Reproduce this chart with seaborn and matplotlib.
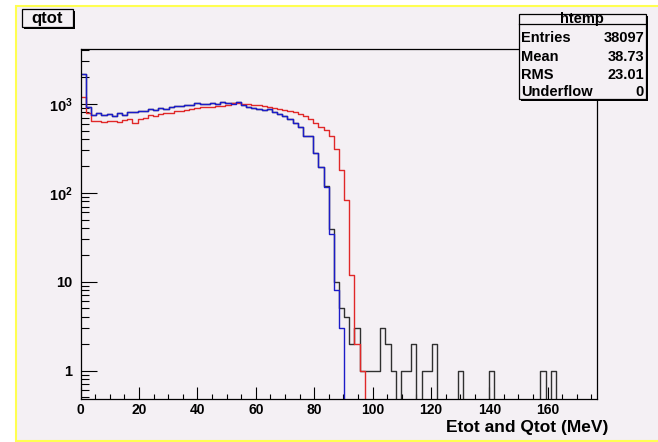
import numpy as np
import pandas as pd
import matplotlib
matplotlib.use("Agg")
import matplotlib.pyplot as plt
import seaborn as sns
from matplotlib.patches import Rectangle
from matplotlib.lines import Line2D
from matplotlib.ticker import FixedLocator, FixedFormatter, MultipleLocator, NullFormatter, LogLocator

# ---------------- data (100 bins, 0 .. 177 MeV) ----------------
x_min, x_max, n_bins = 0.0, 177.0, 100

blue_counts = [
    2170, 930, 750, 785, 740, 765, 720, 785, 750, 805,
    800, 840, 820, 870, 860, 895, 870, 920, 955, 955,
    980, 975, 1015, 990, 992, 1017, 992, 1035, 1020, 1000,
    1035, 960, 930, 895, 880, 850, 875, 800, 770, 720,
    670, 610, 545, 435, 430, 278, 194, 115, 34, 8,
    3, 0, 0, 0, 0, 0, 0, 0, 0, 0,
    0, 0, 0, 0, 0, 0, 0, 0, 0, 0,
    0, 0, 0, 0, 0, 0, 0, 0, 0, 0,
    0, 0, 0, 0, 0, 0, 0, 0, 0, 0,
    0, 0, 0, 0, 0, 0, 0, 0, 0, 0,
]

red_counts = [
    1200, 780, 640, 640, 620, 635, 645, 620, 660, 670,
    615, 675, 690, 750, 720, 765, 785, 785, 820, 840,
    855, 870, 895, 915, 910, 930, 950, 950, 975, 1010,
    1010, 990, 990, 975, 970, 950, 930, 900, 870, 860,
    820, 800, 770, 720, 670, 605, 550, 505, 430, 312,
    178, 83, 12, 2, 1, 0, 0, 0, 0, 0,
    0, 0, 0, 0, 0, 0, 0, 0, 0, 0,
    0, 0, 0, 0, 0, 0, 0, 0, 0, 0,
    0, 0, 0, 0, 0, 0, 0, 0, 0, 0,
    0, 0, 0, 0, 0, 0, 0, 0, 0, 0,
]

black_counts = [
    2170, 930, 750, 785, 740, 765, 720, 785, 750, 805,
    800, 840, 820, 870, 860, 895, 870, 920, 955, 955,
    980, 975, 1015, 990, 992, 1017, 992, 1035, 1020, 1010,
    1035, 960, 930, 900, 880, 850, 875, 805, 770, 720,
    670, 610, 545, 435, 440, 278, 194, 118, 39, 10,
    5, 4, 2, 3, 1, 1, 1, 1, 3, 2,
    1, 0, 1, 1, 2, 0, 1, 1, 2, 0,
    0, 0, 0, 1, 0, 0, 0, 0, 0, 1,
    0, 0, 0, 0, 0, 0, 0, 0, 0, 1,
    0, 1, 0, 0, 0, 0, 0, 0, 0, 0,
]

x_tick_values = [0, 20, 40, 60, 80, 100, 120, 140, 160]
y_tick_values = [1, 10, 100, 1000]
y_tick_labels = ["1", "10", r"$10^{2}$", r"$10^{3}$"]

stats_title = "htemp"
stats_names = ["Entries", "Mean", "RMS", "Underflow"]
stats_values = ["38097", "38.73", "23.01", "0"]

title_text = "qtot"
x_label = "Etot and Qtot (MeV)"

# ---------------- styling ----------------
W, H = 658, 442
pad_color = "#f4f0f4"
blue_c, red_c, black_c = "#1c1cc8", "#e02828", "#303030"

plt.rcParams["font.family"] = ["Liberation Sans", "DejaVu Sans"]
plt.rcParams["font.weight"] = "bold"
plt.rcParams["mathtext.fontset"] = "custom"
plt.rcParams["mathtext.rm"] = "Liberation Sans:bold"
plt.rcParams["mathtext.bf"] = "Liberation Sans:bold"
plt.rcParams["mathtext.it"] = "Liberation Sans:bold"


def fx(px):
    return px / W


def fy(py):
    return 1 - py / H


fig = plt.figure(figsize=(W / 100, H / 100), dpi=100, facecolor="white")

# canvas pad with yellow border
fig.add_artist(Rectangle((fx(16), fy(441)), fx(700) - fx(16), fy(6) - fy(441),
                         transform=fig.transFigure, facecolor=pad_color,
                         edgecolor="#ffff50", linewidth=1.5, zorder=-10))

ax_l, ax_r, ax_t, ax_b = 80.7, 597.3, 49.3, 399.0
ax = fig.add_axes([fx(ax_l), fy(ax_b), fx(ax_r) - fx(ax_l), fy(ax_t) - fy(ax_b)])
ax.set_facecolor(pad_color)

edges = [float(e) for e in np.linspace(x_min, x_max, n_bins + 1)]
centers = [(edges[i] + edges[i + 1]) / 2 for i in range(n_bins)]

frames = []
for name, counts in [("black", black_counts), ("red", red_counts), ("blue", blue_counts)]:
    frames.append(pd.DataFrame({"center": centers, "count": counts, "series": name}))
df = pd.concat(frames, ignore_index=True)

ax.set_yscale("log")
for name, col in [("black", black_c), ("red", red_c), ("blue", blue_c)]:
    sns.histplot(data=df[df["series"] == name], x="center", weights="count",
                 bins=edges, element="step", fill=False, color=col,
                 linewidth=1.0, ax=ax)

ax.set_xlim(x_min, x_max)
ax.set_ylim(0.48, 4100)
ax.set_xlabel("")
ax.set_ylabel("")

for s in ax.spines.values():
    s.set_linewidth(0.9)
    s.set_color("black")

ax.xaxis.set_major_locator(FixedLocator(x_tick_values))
ax.xaxis.set_minor_locator(MultipleLocator(5))
ax.yaxis.set_major_locator(FixedLocator(y_tick_values))
ax.yaxis.set_major_formatter(FixedFormatter(y_tick_labels))
ax.yaxis.set_minor_locator(LogLocator(base=10, subs=np.arange(2, 10)))
ax.yaxis.set_minor_formatter(NullFormatter())

ax.tick_params(axis="x", which="major", direction="in", length=8.4, width=0.8,
               top=False, labelsize=10, pad=3)
ax.tick_params(axis="x", which="minor", direction="in", length=3.6, width=0.8, top=False)
ax.tick_params(axis="y", which="major", direction="in", length=11.5, width=0.8,
               right=False, labelsize=10.5, pad=6)
ax.tick_params(axis="y", which="minor", direction="in", length=5.8, width=0.8, right=False)

# x axis title
fig.text(fx(608), fy(427.5), x_label, ha="right", va="center", fontsize=12.5,
         fontweight="bold")


def box(x0, y0, x1, y1, shadow=2.0):
    fig.add_artist(Rectangle((fx(x0 + shadow), fy(y1 + shadow)), fx(x1) - fx(x0),
                             fy(y0) - fy(y1), transform=fig.transFigure,
                             facecolor="black", edgecolor="none", zorder=5))
    fig.add_artist(Rectangle((fx(x0), fy(y1)), fx(x1) - fx(x0), fy(y0) - fy(y1),
                             transform=fig.transFigure, facecolor=pad_color,
                             edgecolor="black", linewidth=0.9, zorder=6))


# title box
box(21.7, 9.3, 73.0, 27.3)
fig.text(fx(47.3), fy(18.5), title_text, ha="center", va="center", fontsize=12,
         fontweight="bold", zorder=7)

# stats box
sx0, sy0, sx1, sy1 = 519.3, 14.0, 645.5, 99.0
box(sx0, sy0, sx1, sy1)
fig.add_artist(Line2D([fx(sx0), fx(sx1)], [fy(24), fy(24)], transform=fig.transFigure,
                      color="black", linewidth=0.9, zorder=7))
fig.text(fx((sx0 + sx1) / 2), fy(19), stats_title, ha="center", va="center",
         fontsize=10.5, fontweight="bold", zorder=7)
row_y = [38.5, 57, 75, 92]
for name, val, yy in zip(stats_names, stats_values, row_y):
    fig.text(fx(521.5), fy(yy), name, ha="left", va="center", fontsize=10.5,
             fontweight="bold", zorder=7)
    fig.text(fx(644), fy(yy), val, ha="right", va="center", fontsize=10.5,
             fontweight="bold", zorder=7)

fig.savefig("out.png", dpi=100, facecolor="white")
